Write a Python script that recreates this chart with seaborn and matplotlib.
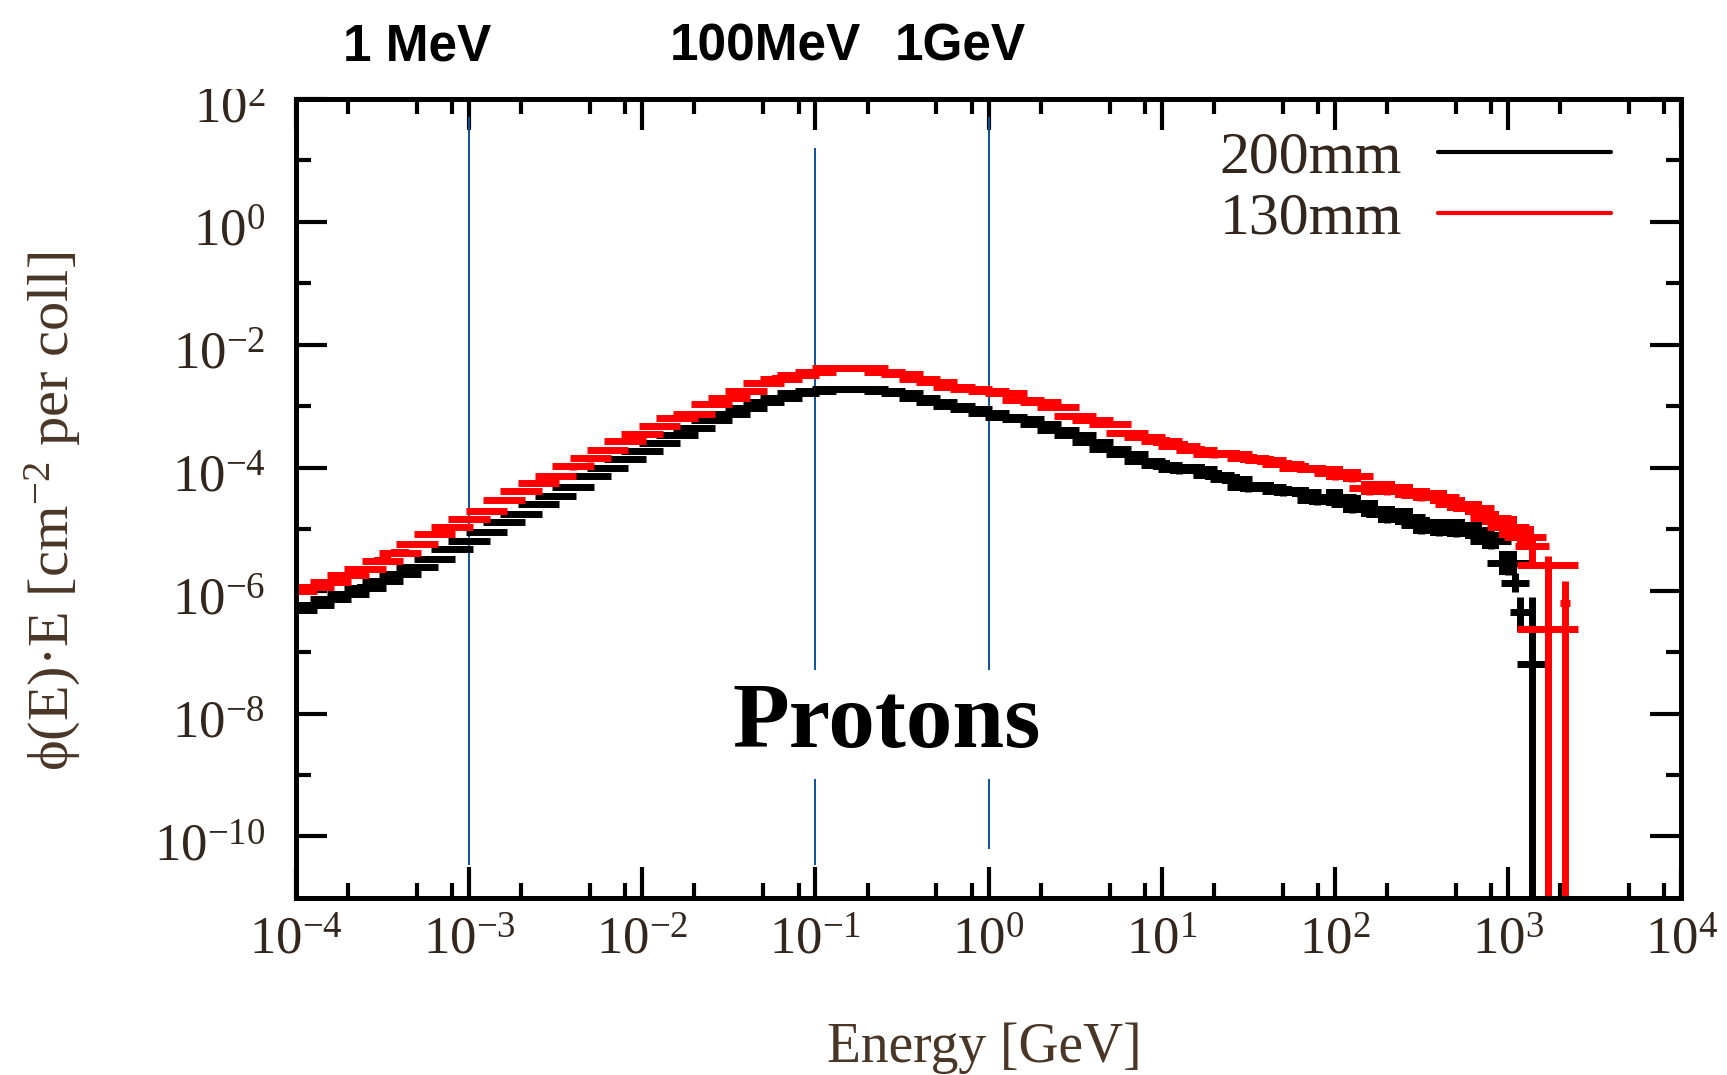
import numpy as np
import matplotlib
matplotlib.use("Agg")
import matplotlib.pyplot as plt
from matplotlib.lines import Line2D
from matplotlib.patches import Rectangle
from matplotlib.transforms import ScaledTranslation
from matplotlib import font_manager, ticker
import seaborn as sns

# ---------------------------------------------------------------- data ----
# histogram bin centres: 10 logarithmic bins per decade, log10(E / GeV)
bin_log_energy = np.round(np.arange(-4.0, 3.15, 0.1), 2)

# log10 of phi(E)*E per bin, 200 mm shielding
log_flux_200mm = [
    -6.32, -6.23, -6.14, -6.06, -5.95, -5.85, -5.73, -5.62, -5.48, -5.32,
    -5.19, -5.05, -4.89, -4.75, -4.59, -4.46, -4.31, -4.13, -4.00, -3.86,
    -3.73, -3.60, -3.47, -3.36, -3.23, -3.13, -3.03, -2.93, -2.86, -2.78,
    -2.76, -2.72, -2.72, -2.72, -2.76, -2.78, -2.86, -2.93, -3.00, -3.04,
    -3.11, -3.18, -3.21, -3.29, -3.39, -3.47, -3.59, -3.70, -3.78, -3.89,
    -3.95, -4.02, -4.02, -4.12, -4.19, -4.31, -4.31, -4.38, -4.40, -4.53,
    -4.48, -4.59, -4.67, -4.76, -4.80, -4.94, -4.97, -4.98, -5.02, -5.19,
    -5.55,
]

# log10 of phi(E)*E per bin, 130 mm shielding
log_flux_130mm = [
    -6.00, -5.94, -5.86, -5.75, -5.65, -5.51, -5.38, -5.24, -5.08, -4.96,
    -4.83, -4.70, -4.53, -4.38, -4.25, -4.13, -3.98, -3.85, -3.71, -3.57,
    -3.46, -3.32, -3.19, -3.12, -2.97, -2.87, -2.76, -2.62, -2.55, -2.50,
    -2.44, -2.37, -2.37, -2.37, -2.44, -2.47, -2.55, -2.61, -2.69, -2.72,
    -2.76, -2.79, -2.90, -2.93, -3.01, -3.16, -3.22, -3.29, -3.43, -3.50,
    -3.57, -3.64, -3.71, -3.78, -3.78, -3.85, -3.88, -3.94, -4.00, -4.02,
    -4.09, -4.13, -4.33, -4.33, -4.38, -4.44, -4.48, -4.59, -4.66, -4.82,
    -4.97, -5.13,
]

# statistical error (half width in decades) for the regular bins,
# one entry per energy decade from 1e-4 GeV upwards
decade_error_200mm = [0.05, 0.05, 0.05, 0.04, 0.05, 0.08, 0.14, 0.20]
decade_error_130mm = [0.05, 0.05, 0.05, 0.04, 0.05, 0.07, 0.11, 0.18]

# sparsely populated high-energy bins (log10 E, log10 flux, bin half width,
# error up, error down; an error of 9 decades runs down to zero)
tail_log_energy_200mm = [3.04, 3.07, 3.14]
tail_log_flux_200mm = [-5.87, -6.35, -7.20]
tail_half_width_200mm = [0.08, 0.06, 0.09]
tail_err_up_200mm = [0.15, 0.25, 1.10]
tail_err_down_200mm = [0.15, 0.30, 9.0]

tail_log_energy_130mm = [3.14, 3.23, 3.23, 3.33]
tail_log_flux_130mm = [-5.28, -5.58, -6.63, -6.20]
tail_half_width_130mm = [0.10, 0.175, 0.175, 0.03]
tail_err_up_130mm = [0.15, 0.15, 1.00, 0.35]
tail_err_down_130mm = [0.25, 9.0, 9.0, 9.0]

series_labels = ["200mm", "130mm"]
series_colors = ["black", "#ff0000"]

# reference energies marked by guide lines (GeV) and their labels
guide_energies = [1e-3, 1e-1, 1.0]
guide_labels = ["1 MeV", "100MeV", "1GeV"]

x_tick_exponents = list(range(-4, 5))
y_tick_exponents = list(range(-10, 3, 2))

# --------------------------------------------------------------- style ----
sns.set_theme(style="ticks")
plt.rcParams["font.family"] = ["Liberation Serif", "DejaVu Serif"]
plt.rcParams["mathtext.fontset"] = "custom"
plt.rcParams["mathtext.rm"] = "Liberation Serif"
plt.rcParams["mathtext.it"] = "Liberation Serif:italic"

available = {f.name for f in font_manager.fontManager.ttflist}
annot_family = ("Liberation Sans Narrow" if "Liberation Sans Narrow" in available
                else "Liberation Sans")
annot_size = 42 if annot_family == "Liberation Sans Narrow" else 37

text_color = "#33261c"
label_color = "#4a3626"
guide_color = "#0d5398"

fig = plt.figure(figsize=(17.27, 10.75), dpi=100)
ax = fig.add_axes([0.1714, 0.1647, 0.8020, 0.7433])
ax.set_xscale("log")
ax.set_yscale("log")
ax.set_xlim(1e-4, 1e4)
ax.set_ylim(1e-11, 1e2)


def draw_series(log_e, log_f, half_w, err_up, err_dn, color):
    """Horizontal bin bars with vertical error bars."""
    log_e = np.asarray(log_e, float)
    log_f = np.asarray(log_f, float)
    half_w = np.asarray(half_w, float)
    err_up = np.asarray(err_up, float)
    err_dn = np.asarray(err_dn, float)
    e = 10 ** log_e
    f = 10 ** log_f
    xerr = [e - 10 ** (log_e - half_w), 10 ** (log_e + half_w) - e]
    yerr = [f - 10 ** (log_f - err_dn), 10 ** (log_f + err_up) - f]
    ax.errorbar(e, f, xerr=xerr, yerr=yerr, fmt="none", ecolor=color,
                elinewidth=5.0, capsize=0, zorder=3)


def draw_error_band(log_e, log_f, err, color):
    """Step-shaped band covering each bin's error interval."""
    log_e = np.asarray(log_e, float)
    log_f = np.asarray(log_f, float)
    edges = 10 ** np.append(log_e - 0.05, log_e[-1] + 0.05)
    lo = 10 ** np.append(log_f - err, log_f[-1] - err[-1])
    hi = 10 ** np.append(log_f + err, log_f[-1] + err[-1])
    ax.fill_between(edges, lo, hi, step="post", color=color, lw=0, zorder=3)


for log_flux, dec_err, t_e, t_f, t_w, t_up, t_dn, color in [
    (log_flux_200mm, decade_error_200mm, tail_log_energy_200mm,
     tail_log_flux_200mm, tail_half_width_200mm, tail_err_up_200mm,
     tail_err_down_200mm, series_colors[0]),
    (log_flux_130mm, decade_error_130mm, tail_log_energy_130mm,
     tail_log_flux_130mm, tail_half_width_130mm, tail_err_up_130mm,
     tail_err_down_130mm, series_colors[1]),
]:
    n = len(log_flux)
    le = bin_log_energy[:n]
    decade_idx = np.clip(np.floor(le + 4.0 + 1e-9).astype(int), 0,
                         len(dec_err) - 1)
    err = np.asarray(dec_err)[decade_idx]
    draw_error_band(le, log_flux, err, color)
    draw_series(le, log_flux, np.full(n, 0.12), err, err, color)
    draw_series(t_e, t_f, t_w, t_up, t_dn, color)

# guide lines at 1 MeV, 100 MeV and 1 GeV
guide_tops = [50.0, 16.0, 50.0]
guide_bottoms = [3.5e-11, 3.5e-11, 6.2e-11]
for xg, yt, yb in zip(guide_energies, guide_tops, guide_bottoms):
    ax.vlines(xg, yb, yt, color=guide_color, lw=1.4, zorder=2)

ax.text(0.4264, 0.189, "Protons", transform=ax.transAxes, ha="center",
        va="baseline", fontsize=67, fontweight="bold", color="black",
        family=["Liberation Serif", "DejaVu Serif"], zorder=4,
        bbox=dict(facecolor="white", edgecolor="none", pad=9))

# ---------------------------------------------------------------- axes ----
ax.xaxis.set_major_locator(ticker.FixedLocator([10.0 ** p for p in x_tick_exponents]))
ax.xaxis.set_major_formatter(ticker.FixedFormatter(
    [r"$\mathregular{10^{%d}}$" % p for p in x_tick_exponents]))
ax.xaxis.set_minor_locator(ticker.LogLocator(base=10, subs=(2, 5, 8), numticks=50))
ax.xaxis.set_minor_formatter(ticker.NullFormatter())

ax.yaxis.set_major_locator(ticker.FixedLocator([10.0 ** p for p in y_tick_exponents]))
ax.yaxis.set_major_formatter(ticker.FixedFormatter(
    [r"$\mathregular{10^{%d}}$" % p for p in y_tick_exponents]))
ax.yaxis.set_minor_locator(ticker.FixedLocator([10.0 ** p for p in range(-9, 2, 2)]))
ax.yaxis.set_minor_formatter(ticker.NullFormatter())

ax.tick_params(which="both", direction="in", top=True, right=True,
               width=3, color="black", labelcolor=text_color, labelsize=38)
ax.tick_params(which="major", length=22)
ax.tick_params(which="minor", length=11)
ax.tick_params(axis="x", which="major", pad=14)
ax.tick_params(axis="y", which="major", pad=22)
for sp in ax.spines.values():
    sp.set_linewidth(3.6)
    sp.set_color("black")
    sp.set_zorder(5)
ax.grid(False)

# y tick labels sit a little below their ticks
shift_down = ScaledTranslation(0, -4 / 72, fig.dpi_scale_trans)
for lbl in ax.get_yticklabels():
    lbl.set_transform(lbl.get_transform() + shift_down)

handles = [Line2D([], [], color=c, lw=3) for c in series_colors]
leg = ax.legend(handles, series_labels, loc="upper right",
                bbox_to_anchor=(0.9495, 0.960), frameon=False, fontsize=43,
                markerfirst=False, handlelength=2.9, handletextpad=0.6,
                labelspacing=0.1, borderpad=0, borderaxespad=0)
for t in leg.get_texts():
    t.set_color(text_color)

fig.text(0.0307, 0.5247, "ϕ(E)·E [cm$^{-2}$ per coll]", rotation=90,
         ha="center", va="center", fontsize=42, color=label_color)
fig.text(0.570, 0.0121, "Energy [GeV]", ha="center", va="baseline",
         fontsize=40, color=label_color)

# white band above the frame, then the energy markers on top of it
fig.patches.append(Rectangle((0, 1 - 89 / 1075), 1, 89 / 1075,
                             transform=fig.transFigure, facecolor="white",
                             edgecolor="none", zorder=1))
for label, xc in zip(guide_labels, [0.2415, 0.443, 0.556]):
    fig.text(xc, 1 - 60 / 1075, label, ha="center", va="baseline",
             fontsize=annot_size, fontweight="bold", color="black",
             family=[annot_family, "DejaVu Sans"], zorder=2)

fig.savefig("out.png", dpi=100, facecolor="white")
